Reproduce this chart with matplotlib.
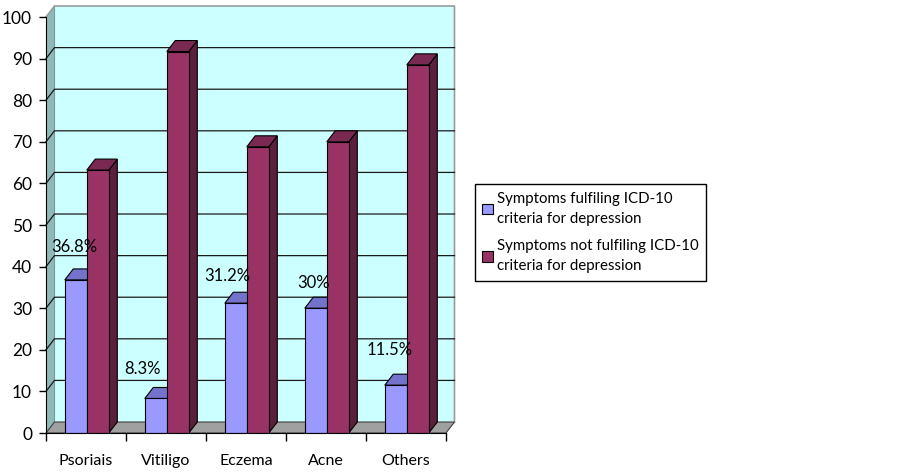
import matplotlib
matplotlib.use("Agg")
import matplotlib.pyplot as plt
from matplotlib.patches import Polygon, Patch
import numpy as np

# ---------------- data ----------------
categories = ["Psoriais", "Vitiligo", "Eczema", "Acne", "Others"]
fulfilling = [36.8, 8.3, 31.2, 30.0, 11.5]          # % fulfilling ICD-10 criteria
not_fulfilling = [63.2, 91.7, 68.8, 70.0, 88.5]     # % not fulfilling
label_texts = ["36.8%", "8.3%", "31.2%", "30%", "11.5%"]
series_names = ["Symptoms fulfiling ICD-10\ncriteria for depression",
                "Symptoms not fulfiling ICD-10\ncriteria for depression"]
yticks = list(range(0, 101, 10))

# ---------------- layout / style ----------------
plt.rcParams['font.family'] = ['Lato', 'DejaVu Sans']
DX, DY = 0.106, 2.64          # fake 3-D depth offset (x units, y units)
W = 0.275                     # bar width
BLUE = dict(front="#9999FF", top="#7373CC", side="#5C5CA8")
RED = dict(front="#993366", top="#7A2952", side="#5E1F3F")
label_off = [(-0.14, 7.9), (-0.29, 7.2), (-0.23, 6.5), (-0.16, 6.1), (-0.20, 8.5)]

fig = plt.figure(figsize=(8.99, 4.72), dpi=100)
ax = fig.add_axes([46 / 899, 39 / 472, 400 / 899, 416 / 472])
ax.set_xlim(-0.5, 4.5)
ax.set_ylim(0, 100)
ax.set_facecolor("none")

x0, x1 = -0.5, len(categories) - 0.5

# back wall
ax.add_patch(Polygon([(x0 + DX, DY), (x1 + DX, DY), (x1 + DX, 100 + DY), (x0 + DX, 100 + DY)],
                     closed=True, facecolor="#CCFFFF", edgecolor="none", clip_on=False, zorder=0))
# side wall
ax.add_patch(Polygon([(x0, 0), (x0 + DX, DY), (x0 + DX, 100 + DY), (x0, 100)],
                     closed=True, facecolor="#8FB8B8", edgecolor="none", clip_on=False, zorder=0.5))
# back wall outer border (top & right)
ax.plot([x0, x0 + DX, x1 + DX, x1 + DX], [100, 100 + DY, 100 + DY, DY],
        color="#9A9A9A", lw=1.2, clip_on=False, zorder=0.6)
ax.plot([x0 + DX, x0 + DX], [DY, 100 + DY], color="#7A9A9A", lw=0.8, clip_on=False, zorder=0.6)

# gridlines
for v in yticks[1:-1]:
    ax.plot([x0, x0 + DX, x1 + DX], [v, v + DY, v + DY], color="#1A1A1A", lw=0.9,
            clip_on=False, zorder=0.7)

# floor
ax.add_patch(Polygon([(x0, 0), (x1, 0), (x1 + DX, DY), (x0 + DX, DY)],
                     closed=True, facecolor="#A0A0A0", edgecolor="#404040", lw=0.8,
                     clip_on=False, zorder=0.8))

xc = np.arange(len(categories))


def bar3d(lefts, heights, colors, z):
    bars = ax.bar(lefts, heights, width=W, align="edge", color=colors["front"],
                  edgecolor="black", linewidth=0.8, zorder=z + 0.2)
    for b in bars:
        l, h = b.get_x(), b.get_height()
        r = l + b.get_width()
        ax.add_patch(Polygon([(r, 0), (r + DX, DY), (r + DX, h + DY), (r, h)], closed=True,
                             facecolor=colors["side"], edgecolor="black", lw=0.8,
                             clip_on=False, zorder=z))
        ax.add_patch(Polygon([(l, h), (r, h), (r + DX, h + DY), (l + DX, h + DY)], closed=True,
                             facecolor=colors["top"], edgecolor="black", lw=0.8,
                             clip_on=False, zorder=z + 0.1))
    return bars


bar3d(xc - 0.265, fulfilling, BLUE, 2)
bar3d(xc + 0.01, not_fulfilling, RED, 3)

# data labels
for i, (t, v) in enumerate(zip(label_texts, fulfilling)):
    ox, oy = label_off[i]
    ax.text(xc[i] + ox, v + oy, t, ha="center", va="center", fontsize=12, zorder=5)

# axes styling
for s in ["top", "right"]:
    ax.spines[s].set_visible(False)
ax.spines["left"].set_color("black")
ax.spines["bottom"].set_color("black")
ax.spines["left"].set_zorder(4)
ax.spines["bottom"].set_zorder(4)
ax.set_yticks(yticks)
ax.set_yticklabels([str(v) for v in yticks], fontsize=12.5)
ax.tick_params(axis="y", length=5, width=1, pad=5, direction="out")
ax.set_xticks(xc)
ax.set_xticklabels(categories, fontsize=11.5)
ax.tick_params(axis="x", which="major", length=0, pad=15)
ax.set_xticks(np.arange(-0.5, len(categories), 1.0), minor=True)
ax.tick_params(axis="x", which="minor", length=6, width=1, direction="out")

# legend
handles = [Patch(facecolor=BLUE["front"], edgecolor="black", lw=0.8),
           Patch(facecolor=RED["front"], edgecolor="black", lw=0.8)]
leg = fig.legend(handles, series_names, loc="upper left",
                 bbox_to_anchor=(475 / 899, 1 - 184 / 472), fontsize=10.8,
                 frameon=True, fancybox=False, edgecolor="black", framealpha=1,
                 handlelength=0.7, handleheight=0.7, handletextpad=0.25,
                 labelspacing=0.85, borderpad=0.5, borderaxespad=0)
for t in leg.get_texts():
    t.set_linespacing(1.6)
leg.get_frame().set_linewidth(1.0)

fig.savefig("out.png", dpi=100)
